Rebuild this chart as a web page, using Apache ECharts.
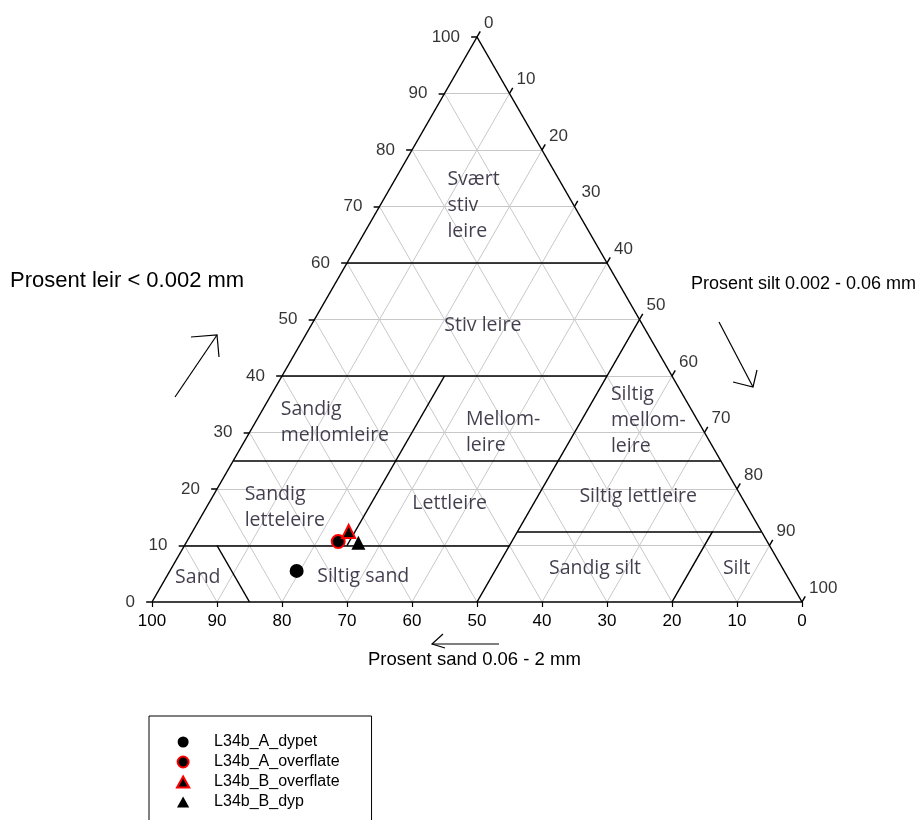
<!DOCTYPE html>
<html>
<head>
<meta charset="utf-8">
<script src="https://cdn.jsdelivr.net/npm/echarts@6/dist/echarts.min.js"></script>
<style>
  html, body { margin: 0; padding: 0; background: #fff; }
  #chart { width: 924px; height: 820px; }
</style>
</head>
<body>
<div id="chart"></div>
<script>
// samples, in percent: sand, clay (silt = 100 - sand - clay)
const sampleNames = ['L34b_A_dypet', 'L34b_A_overflate', 'L34b_B_overflate', 'L34b_B_dyp'];
const sampleSand = [75, 66, 63.5, 63];
const sampleClay = [5.5, 10.7, 12.5, 10.5];

// tick labels on all three sides
const tickValues = [0, 10, 20, 30, 40, 50, 60, 70, 80, 90, 100];

// class boundaries as [sand, clay] -> [sand, clay]
const boundaryFrom = [[40, 60], [60, 40], [75, 25], [90, 10], [37.5, 12.5], [0, 50], [35, 40], [85, 0], [20, 0]];
const boundaryTo   = [[0, 60],  [10, 40], [0, 25],  [40, 10], [0, 12.5],    [50, 0], [65, 10], [85, 10], [7.5, 12.5]];

// texture class names and where they sit (sand, clay)
const regionNames = ['Svært\nstiv\nleire', 'Stiv leire', 'Sandig\nmellomleire', 'Mellom-\nleire',
  'Siltig\nmellom-\nleire', 'Sandig\nletteleire', 'Lettleire', 'Siltig lettleire',
  'Sand', 'Siltig sand', 'Sandig silt', 'Silt'];
const regionSand = [19.5, 24.6, 64.3, 36.7, 13.3, 77.4, 45.5, 15.9, 90.8, 65.2, 28.9, 7.1];
const regionClay = [70.1, 49.0, 31.8, 30.0, 32.2, 16.7, 17.4, 18.6, 4.3, 4.6, 5.9, 5.9];

// ternary -> plane: x runs 0..100 along the base, y is clay
const tern = (sand, clay) => [100 - sand - clay / 2, clay];
const seg = (a, b) => ({ coords: [a, b] });

const gridLines = [];
for (let i = 10; i < 100; i += 10) {
  gridLines.push(seg(tern(100 - i, i), tern(0, i)));      // clay
  gridLines.push(seg(tern(i, 0), tern(i, 100 - i)));      // sand
  gridLines.push(seg(tern(100 - i, 0), tern(0, 100 - i))); // silt
}

const blackLines = [
  seg(tern(100, 0), tern(0, 100)),
  seg(tern(0, 100), tern(0, 0)),
  seg(tern(0, 0), tern(100, 0))
];
boundaryFrom.forEach((p, i) => blackLines.push(seg(tern(p[0], p[1]), tern(boundaryTo[i][0], boundaryTo[i][1]))));

// small ticks on the two slanted sides
const ticks = [];
tickValues.forEach(v => {
  const l = tern(100 - v, v);
  ticks.push(seg(l, [l[0] - 0.9, v]));
  ticks.push(seg(tern(0, 100 - v), tern(-1, 101 - v)));
});

const labelFont = { fontFamily: 'Liberation Sans, Arial', fontSize: 17, color: '#000' };
const triPath = 'path://M5,0L10,9L0,9Z';

const chart = echarts.init(document.getElementById('chart'));
chart.setOption({
  animation: false,
  grid: { left: 152, top: 37, width: 650, height: 565 },
  xAxis: {
    type: 'value', min: 0, max: 100, interval: 10,
    axisLine: { show: false },
    axisTick: { show: true, length: 5, lineStyle: { color: '#000', width: 1.2 } },
    axisLabel: Object.assign({ margin: 11, formatter: v => String(100 - v) }, labelFont),
    splitLine: { show: false }
  },
  yAxis: { type: 'value', min: 0, max: 100, show: false },
  legend: {
    orient: 'vertical', left: 149, top: 716, height: 200,
    padding: [18, 32, 40, 27],
    borderColor: '#000', borderWidth: 1,
    itemWidth: 52, itemHeight: 11, itemGap: 4,
    symbolKeepAspect: true,
    textStyle: { fontFamily: 'Liberation Sans, Arial', fontSize: 16, color: '#000' },
    data: [
      { name: sampleNames[0], icon: 'circle' },
      { name: sampleNames[1], icon: 'circle' },
      { name: sampleNames[2], icon: triPath },
      { name: sampleNames[3], icon: triPath }
    ]
  },
  graphic: [
    { type: 'text', left: 10, top: 270, style: { text: 'Prosent leir < 0.002 mm', font: '22px "Liberation Sans", Arial', fill: '#000' } },
    { type: 'text', left: 691, top: 275, style: { text: 'Prosent silt 0.002 - 0.06 mm', font: '18px "Liberation Sans", Arial', fill: '#000' } },
    { type: 'text', left: 368, top: 650, style: { text: 'Prosent sand 0.06 - 2 mm', font: '18.5px "Liberation Sans", Arial', fill: '#000' } },
    { type: 'polyline', shape: { points: [[175, 397], [217, 335]] }, style: { stroke: '#000', lineWidth: 1.2 } },
    { type: 'polyline', shape: { points: [[191, 337], [217, 335], [219, 357]] }, style: { stroke: '#000', lineWidth: 1.2, fill: null } },
    { type: 'polyline', shape: { points: [[719, 322], [753, 387]] }, style: { stroke: '#000', lineWidth: 1.2 } },
    { type: 'polyline', shape: { points: [[733, 382], [753, 387], [757, 370]] }, style: { stroke: '#000', lineWidth: 1.2, fill: null } },
    { type: 'polyline', shape: { points: [[499, 644], [432, 644]] }, style: { stroke: '#000', lineWidth: 1.2 } },
    { type: 'polyline', shape: { points: [[443, 634], [432, 644], [445, 648]] }, style: { stroke: '#000', lineWidth: 1.2, fill: null } }
  ],
  series: [
    {
      type: 'lines', coordinateSystem: 'cartesian2d', silent: true, z: 1,
      lineStyle: { color: '#c8c8c8', width: 1, opacity: 1 },
      data: gridLines
    },
    {
      type: 'lines', coordinateSystem: 'cartesian2d', silent: true, z: 2, clip: false,
      lineStyle: { color: '#000', width: 1.5, opacity: 1 },
      data: blackLines.concat(ticks)
    },
    {
      type: 'scatter', symbolSize: 0, silent: true,
      label: Object.assign({ show: true, position: 'left', distance: 17, formatter: p => String(p.value[2]) }, labelFont),
      data: tickValues.map(v => tern(100 - v, v).concat(v))
    },
    {
      type: 'scatter', symbolSize: 0, silent: true,
      label: Object.assign({ show: true, position: 'right', distance: 7, offset: [0, -14], formatter: p => String(p.value[2]) }, labelFont),
      data: tickValues.map(v => tern(0, 100 - v).concat(v))
    },
    {
      type: 'scatter', symbolSize: 0, silent: true,
      label: { show: true, position: 'inside', fontFamily: 'Open Sans', fontSize: 19.5, lineHeight: 26, color: '#140e22', formatter: p => p.name },
      data: regionNames.map((n, i) => ({
        name: n,
        value: tern(regionSand[i], regionClay[i]),
        label: n.indexOf('\n') >= 0 ? { align: 'left' } : {}
      }))
    },
    {
      name: sampleNames[0], type: 'scatter', symbol: 'circle', symbolSize: 14, z: 5,
      itemStyle: { color: '#000', opacity: 1 },
      data: [tern(sampleSand[0], sampleClay[0])]
    },
    {
      name: sampleNames[1], type: 'scatter', symbol: 'circle', symbolSize: 13, z: 5,
      itemStyle: { color: '#000', borderColor: '#ff0000', borderWidth: 2, opacity: 1 },
      data: [tern(sampleSand[1], sampleClay[1])]
    },
    {
      name: sampleNames[2], type: 'scatter', symbol: triPath, symbolSize: 13, z: 5,
      itemStyle: { color: '#000', borderColor: '#ff0000', borderWidth: 2, opacity: 1 },
      data: [tern(sampleSand[2], sampleClay[2])]
    },
    {
      name: sampleNames[3], type: 'scatter', symbol: triPath, symbolSize: 14, z: 5,
      itemStyle: { color: '#000', opacity: 1 },
      data: [tern(sampleSand[3], sampleClay[3])]
    }
  ]
});
</script>
</body>
</html>
